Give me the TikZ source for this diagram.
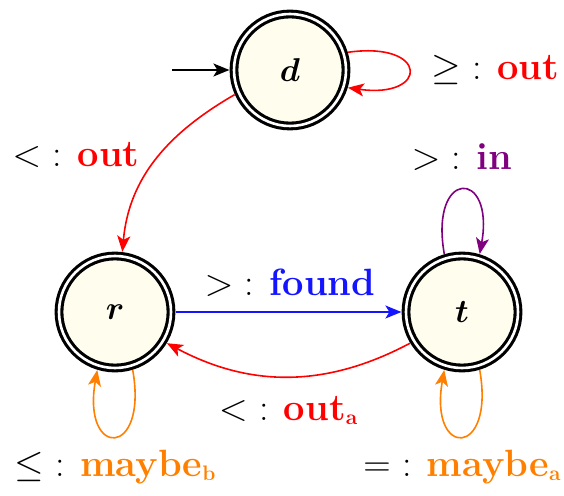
\RequirePackage{fix-cm}
\documentclass[tikz,border=0pt]{standalone}
\usetikzlibrary{arrows.meta}
\definecolor{nodefill}{RGB}{254,253,238}
\definecolor{myred}{RGB}{255,0,0}
\definecolor{myblue}{RGB}{20,20,255}
\definecolor{mypurple}{RGB}{128,0,128}
\definecolor{myorange}{RGB}{255,128,0}
\newcommand{\subbf}[1]{\raisebox{-4pt}{\fontsize{21}{21}\selectfont\textbf{#1}}}
\begin{document}
\begin{tikzpicture}[x=1pt,y=1pt,
  statenode/.style={circle, draw=black, line width=3.1pt, double=white, double distance=2.6pt,
    fill=nodefill, minimum size=112pt, inner sep=0pt, outer sep=4.6pt,
    font=\fontsize{33}{36}\selectfont\boldmath},
  lbl/.style={inner sep=0pt, font=\fontsize{38}{40}\selectfont},
  edge/.style={line width=1.6pt, -{Stealth[length=16pt,width=13pt,inset=4pt]}},
  ]
\useasboundingbox (0,0) rectangle (564,495);
\node[statenode] (d) at (290,425) {$d$};
\node[statenode] (r) at (115,183) {$r$};
\node[statenode] (t) at (462,183) {$t$};
\coordinate (s) at (172,425);

\draw[edge, black] (s) -- (d);
\draw[edge, myred] (d.17) to[out=8,in=-8,min distance=82pt] (d.-17);
\draw[edge, myred] (d.204) to[out=210,in=85] (r.83);
\draw[edge, myblue] (r) -- (t);
\draw[edge, myred] (t.211) to[out=208,in=-28] (r.-31);
\draw[edge, mypurple] (t.107) to[out=100,in=80,min distance=87pt] (t.73);
\draw[edge, myorange] (r.-73) to[out=-80,in=-100,min distance=90pt] (r.-107);
\draw[edge, myorange] (t.-73) to[out=-80,in=-100,min distance=90pt] (t.-107);

\node[lbl] (l1) at (495,425) {$\geq$ : \textcolor{myred}{\textbf{out}}};
\node[lbl] (l2) at (76,340) {$<$ : \textcolor{myred}{\textbf{out}}};
\node[lbl] (l3) at (462,338) {$>$ : \textcolor{mypurple}{\textbf{in}}};
\node[lbl] (l4) at (290,212) {$>$ : \textcolor{myblue}{\textbf{found}}};
\node[lbl] (l5) at (288,85) {$<$ : \textcolor{myred}{\textbf{out}\subbf{a}}};
\node[lbl] (l6) at (115,28) {$\leq$ : \textcolor{myorange}{\textbf{maybe}\subbf{b}}};
\node[lbl] (l7) at (462,28) {$=$ : \textcolor{myorange}{\textbf{maybe}\subbf{a}}};
\end{tikzpicture}
\end{document}
